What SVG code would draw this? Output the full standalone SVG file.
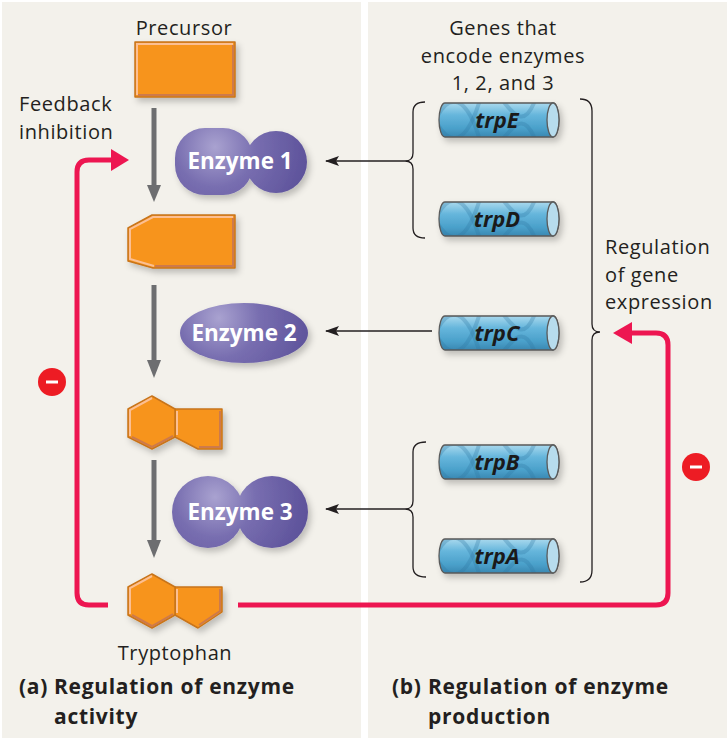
<svg xmlns="http://www.w3.org/2000/svg" width="727" height="740" viewBox="0 0 727 740">
<style>
.t{font-family:"Open Sans","Noto Sans","Liberation Sans",sans-serif;font-size:20px;letter-spacing:0.6px;fill:#231f20}
.b{font-weight:bold;font-size:21px;letter-spacing:0.7px}
.c{text-anchor:middle}
.enz{font-family:"Open Sans","Noto Sans","Liberation Sans",sans-serif;font-size:22.5px;font-weight:bold;fill:#ffffff;text-anchor:middle}
.gene{font-family:"Open Sans","Noto Sans","Liberation Sans",sans-serif;font-size:22px;font-weight:bold;font-style:italic;fill:#1a1a1a;text-anchor:middle}
.org{fill:#f7941d;stroke:#c8741a;stroke-width:1.5;stroke-linejoin:round}
.hi{fill:none;stroke:#fcbf92;stroke-width:2}
.lo{fill:none;stroke:#cd7a4b;stroke-width:2}
.gray{stroke:#6d6e70;stroke-width:5;fill:none}
.grayh{fill:#6d6e70}
.thin{stroke:#231f20;stroke-width:1.3;fill:none}
.red{stroke:#ed1651;stroke-width:5;fill:none;stroke-linejoin:round}
.redh{fill:#ed1651}
.brace{stroke:#231f20;stroke-width:1.3;fill:none}
</style>
<defs>
<filter id="sh" x="-20%" y="-20%" width="150%" height="160%">
<feDropShadow dx="3" dy="4" stdDeviation="3" flood-color="#000" flood-opacity="0.22"/>
</filter>
<radialGradient id="enzG" gradientUnits="userSpaceOnUse" cx="-25" cy="-15" r="100">
<stop offset="0" stop-color="#a9a2d0"/>
<stop offset="0.4" stop-color="#786eb0"/>
<stop offset="1" stop-color="#5a4f98"/>
</radialGradient>
<linearGradient id="geneG" x1="0" y1="0" x2="0" y2="1">
<stop offset="0" stop-color="#a9d9ee"/>
<stop offset="0.35" stop-color="#66b6dc"/>
<stop offset="0.75" stop-color="#4aa0ca"/>
<stop offset="1" stop-color="#3a88b2"/>
</linearGradient>
<clipPath id="geneClip">
<path d="M6,-17 H114 A6,17 0 0 1 114,17 H6 A6,17 0 0 1 6,-17 Z"/>
</clipPath>
<g id="geneShape">
<path d="M6,-17 H114 A6,17 0 0 1 114,17 H6 A6,17 0 0 1 6,-17 Z" fill="url(#geneG)"/>
<g clip-path="url(#geneClip)" fill="none" stroke="#2e78a3" stroke-width="4" stroke-opacity="0.3">
<path d="M-10,17 C5,-30 25,-30 40,17 S75,-30 95,17 S125,-30 140,17"/>
<path d="M-10,-17 C5,30 25,30 40,-17 S75,30 95,-17 S125,30 140,-17"/>
</g>
<path d="M6,-17 H114 A6,17 0 0 1 114,17 H6 A6,17 0 0 1 6,-17 Z" fill="none" stroke="#5a5a5a" stroke-width="1.3"/>
<ellipse cx="114" cy="0" rx="6" ry="17" fill="#b7dced" stroke="#5a5a5a" stroke-width="1.3"/>
</g>
<marker id="ah" markerWidth="14" markerHeight="10" refX="13" refY="5" orient="auto" markerUnits="userSpaceOnUse">
<path d="M0,0 L14,5 L0,10 L3,5 Z" fill="#231f20"/>
</marker>
</defs>

<!-- background -->
<rect x="0" y="0" width="727" height="740" fill="#ffffff"/>
<rect x="2" y="2" width="359" height="736" fill="#f3f1eb"/>
<rect x="368" y="2" width="359" height="736" fill="#f3f1eb"/>

<!-- connectors -->
<g id="connectors">
<line class="gray" x1="154" y1="108" x2="154" y2="187"/>
<polygon class="grayh" points="147,185 161,185 154,202"/>
<line class="gray" x1="154" y1="285" x2="154" y2="362"/>
<polygon class="grayh" points="147,360 161,360 154,378"/>
<line class="gray" x1="154" y1="460" x2="154" y2="542"/>
<polygon class="grayh" points="147,540 161,540 154,558"/>

<line class="thin" x1="405" y1="161" x2="326" y2="161" marker-end="url(#ah)"/>
<line class="thin" x1="432" y1="331" x2="326" y2="331" marker-end="url(#ah)"/>
<line class="thin" x1="405" y1="509" x2="326" y2="509" marker-end="url(#ah)"/>

<path class="red" d="M108,605 H89 Q77,605 77,593 V172 Q77,160 89,160 H113"/>
<polygon class="redh" points="111,149 129,160 111,171"/>
<path class="red" d="M238,605 H656 Q668,605 668,593 V345 Q668,333 656,333 H630"/>
<polygon class="redh" points="632,322 613,333 632,344"/>

<g id="minus-left">
<circle cx="52" cy="382" r="14" fill="#ed1c24"/>
<rect x="46" y="380.5" width="12" height="3" fill="#ffffff"/>
</g>
<g id="minus-right">
<circle cx="696" cy="467" r="14" fill="#ed1c24"/>
<rect x="690" y="465.5" width="12" height="3" fill="#ffffff"/>
</g>

<path class="brace" d="M425,102 Q413,102 413,112 V153 Q413,161 405,161 Q413,161 413,169 V228 Q413,238 425,238"/>
<path class="brace" d="M426,442 Q413,442 413,452 V501 Q413,509 405,509 Q413,509 413,517 V567 Q413,577 426,577"/>
<path class="brace" d="M580,99 Q592,99 592,111 V324 Q592,332 600,332 Q592,332 592,340 V570 Q592,582 580,582"/>
</g>

<!-- left panel nodes -->
<g id="precursor">
<text class="t c" x="184" y="35">Precursor</text>
<g filter="url(#sh)">
<rect class="org" x="135" y="42" width="100" height="55"/>
</g>
<polyline class="hi" points="137,95 137,44 233,44"/>
<polyline class="lo" points="233,45 233,95 138,95"/>
</g>

<g id="feedback-label">
<text class="t" x="19" y="111">Feedback<tspan x="19" y="138.5">inhibition</tspan></text>
</g>

<g id="enzyme1" transform="translate(240,162)">
<g filter="url(#sh)" fill="url(#enzG)">
<rect x="-65" y="-34" width="78" height="67" rx="30" ry="30"/>
<circle cx="36" cy="0" r="31"/>
</g>
<text class="enz" x="0" y="7">Enzyme 1</text>
</g>

<g id="intermediate1">
<g filter="url(#sh)">
<polygon class="org" points="152,215 235,215 235,268 153,268 128,261 128,228"/>
</g>
<polyline class="hi" points="154,266 130,259 130,229 153,217 233,217"/>
<polyline class="lo" points="233,218 233,266 155,266"/>
</g>

<g id="enzyme2" transform="translate(244,333)">
<g filter="url(#sh)" fill="url(#enzG)">
<ellipse cx="0" cy="0" rx="64" ry="30"/>
</g>
<text class="enz" x="0" y="8">Enzyme 2</text>
</g>

<g id="intermediate2">
<g filter="url(#sh)">
<polygon class="org" points="175,409 222,409 222,449 198,449 175,437"/>
<polygon class="org" points="152,396 175,409 175,437 152,449 128,437 128,409"/>
</g>
<polyline class="hi" points="130,436 130,410 152,398"/>
<polyline class="hi" points="177,435 177,411"/>
<polyline class="lo" points="220,411 220,447 199,447"/>
<polyline class="lo" points="173,436 152,447 132,437"/>
</g>

<g id="enzyme3" transform="translate(240,512)">
<g filter="url(#sh)" fill="url(#enzG)">
<circle cx="-32" cy="0" r="36"/>
<circle cx="32" cy="0" r="36"/>
</g>
<text class="enz" x="0" y="8">Enzyme 3</text>
</g>

<g id="tryptophan">
<g filter="url(#sh)">
<polygon class="org" points="175,587 222,587 222,612 198,628 175,615"/>
<polygon class="org" points="152,574 175,587 175,615 152,628 128,615 128,587"/>
</g>
<polyline class="hi" points="130,614 130,588 152,576"/>
<polyline class="hi" points="177,613 177,589"/>
<polyline class="lo" points="220,589 220,611 199,625"/>
<polyline class="lo" points="173,614 152,626 132,615"/>
<text class="t c" x="175" y="660">Tryptophan</text>
</g>

<g id="caption-a">
<text class="t b" x="19" y="694">(a)<tspan x="54" y="694">Regulation of enzyme</tspan><tspan x="54" y="723.5">activity</tspan></text>
</g>

<!-- right panel nodes -->
<g id="genes-label">
<text class="t c" x="503" y="35">Genes that<tspan x="503" y="62.5">encode enzymes</tspan><tspan x="503" y="90">1, 2, and 3</tspan></text>
</g>

<g id="trpE" transform="translate(439,120)">
<use href="#geneShape" filter="url(#sh)"/>
<text class="gene" x="58" y="8">trpE</text>
</g>
<g id="trpD" transform="translate(439,219)">
<use href="#geneShape" filter="url(#sh)"/>
<text class="gene" x="58" y="8">trpD</text>
</g>
<g id="trpC" transform="translate(439,333)">
<use href="#geneShape" filter="url(#sh)"/>
<text class="gene" x="58" y="8">trpC</text>
</g>
<g id="trpB" transform="translate(439,462)">
<use href="#geneShape" filter="url(#sh)"/>
<text class="gene" x="58" y="8">trpB</text>
</g>
<g id="trpA" transform="translate(439,556)">
<use href="#geneShape" filter="url(#sh)"/>
<text class="gene" x="58" y="8">trpA</text>
</g>

<g id="regulation-label">
<text class="t" x="605" y="254">Regulation<tspan x="605" y="281.5">of gene</tspan><tspan x="605" y="309">expression</tspan></text>
</g>

<g id="caption-b">
<text class="t b" x="392" y="694">(b)<tspan x="428" y="694">Regulation of enzyme</tspan><tspan x="428" y="723.5">production</tspan></text>
</g>
</svg>
